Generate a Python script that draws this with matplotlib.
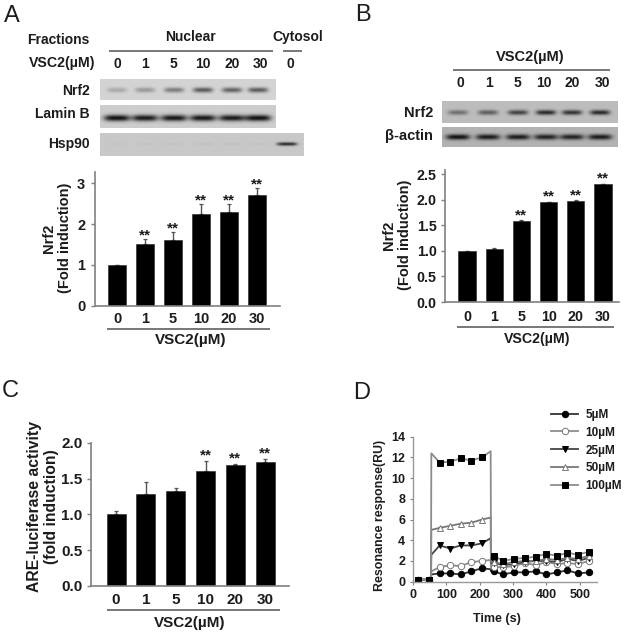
import numpy as np
import matplotlib
matplotlib.use("Agg")
import matplotlib.pyplot as plt

plt.rcParams['font.family'] = ['Liberation Sans', 'DejaVu Sans']
W, H = 629, 637
TXT = '#1c1c1c'
AX = '#808080'

doses = ['0', '1', '5', '10', '20', '30']

a_vals = [1.0, 1.51, 1.61, 2.26, 2.30, 2.71]
a_errs = [0.0, 0.13, 0.19, 0.23, 0.19, 0.18]
a_star = [False, True, True, True, True, True]

b_vals = [1.0, 1.04, 1.59, 1.95, 1.98, 2.30]
b_errs = [0.0, 0.01, 0.01, 0.01, 0.01, 0.01]
b_star = [False, False, True, True, True, True]

c_vals = [1.0, 1.29, 1.33, 1.61, 1.69, 1.73]
c_errs = [0.04, 0.16, 0.04, 0.14, 0.01, 0.045]
c_star = [False, False, False, True, True, True]

d_time = [15, 48, 54, 55, 80, 112, 143, 175, 207, 233, 234, 243, 270, 302, 335, 368, 400, 432, 463, 495, 527]
d_5 = [0.2, 0.2, 0.3, 0.7, 0.8, 0.8, 0.7, 1.0, 1.3, 1.2, 1.0, 1.0, 0.7, 0.9, 0.9, 1.0, 0.7, 0.9, 1.1, 0.8, 0.9]
d_10 = [0.2, 0.2, 0.3, 1.0, 1.4, 1.6, 1.5, 1.9, 2.0, 2.1, 1.4, 1.4, 1.4, 1.5, 1.8, 1.6, 1.9, 1.7, 1.8, 1.7, 2.0]
d_25 = [0.2, 0.2, 0.3, 2.6, 3.5, 3.2, 3.5, 3.5, 3.7, 4.2, 1.8, 1.8, 1.6, 1.7, 1.9, 2.0, 2.0, 1.9, 2.2, 2.0, 2.3]
d_50 = [0.2, 0.2, 0.3, 5.0, 5.2, 5.4, 5.6, 5.7, 6.0, 6.2, 1.9, 1.9, 1.7, 1.9, 2.0, 2.0, 2.2, 2.1, 2.3, 2.2, 2.5]
d_100 = [0.2, 0.2, 0.3, 12.4, 11.5, 11.6, 11.9, 11.7, 12.0, 12.6, 2.5, 2.5, 2.0, 2.2, 2.3, 2.4, 2.7, 2.5, 2.8, 2.6, 2.9]

blot_a_nrf2 = [0.22, 0.30, 0.45, 0.62, 0.58, 0.62]
blot_a_lamin = [1.0, 0.95, 0.97, 0.97, 0.95, 1.0]
blot_a_hsp = [0.02, 0.03, 0.03, 0.04, 0.04, 0.03, 0.85]
blot_b_nrf2 = [0.45, 0.55, 0.72, 0.85, 0.80, 0.85]
blot_b_actin = [1.0, 0.95, 0.95, 0.90, 0.90, 0.95]

fig = plt.figure(figsize=(W / 100, H / 100), dpi=100, facecolor='white')


def px_axes(l, t, r, b):
    return fig.add_axes([l / W, 1 - b / H, (r - l) / W, (b - t) / H])


def bar_panel(box, xlim, ylim, yticks, ylabels, vals, errs, stars, fs, star_off, xpad, ypad):
    ax = px_axes(*box)
    x = np.arange(len(vals))
    ax.bar(x, vals, width=0.64, color='black', edgecolor='#222222', linewidth=0.4, zorder=2)
    ax.errorbar(x, vals, yerr=[np.zeros(len(errs)), errs], fmt='none', ecolor='#555555',
                elinewidth=1.0, capsize=1.6, capthick=0.9, zorder=1)
    ax.set_xlim(*xlim)
    ax.set_ylim(*ylim)
    ax.set_xticks(x, doses)
    ax.set_yticks(yticks, ylabels)
    ax.tick_params(axis='x', length=0, pad=xpad, labelsize=fs, labelcolor=TXT)
    ax.tick_params(axis='y', length=3, width=1, color=AX, pad=ypad, labelsize=fs, labelcolor=TXT)
    for lab in ax.get_xticklabels() + ax.get_yticklabels():
        lab.set_fontweight('bold')
    for s in ('top', 'right'):
        ax.spines[s].set_visible(False)
    for s in ('left', 'bottom'):
        ax.spines[s].set_color(AX)
        ax.spines[s].set_linewidth(1.2)
    for xi, v, e, st in zip(x, vals, errs, stars):
        if st:
            ax.annotate('**', (xi, v + e), xytext=(0, star_off), textcoords='offset points',
                        ha='center', va='center', fontsize=11, fontweight='bold', color=TXT)
    ax.patch.set_alpha(0)
    return ax


bar_panel((95, 172, 280, 305.7), (-0.786, 5.82), (0, 3.28), [0, 1, 2, 3], ['0', '1', '2', '3'],
          a_vals, a_errs, a_star, 10.5, 2.5, 4.5, 4)
bar_panel((445, 170, 619, 302), (-0.81, 5.59), (0, 2.58), [0, 0.5, 1, 1.5, 2, 2.5],
          ['0.0', '0.5', '1.0', '1.5', '2.0', '2.5'], b_vals, b_errs, b_star, 10.3, 3.5, 6, 3)
bar_panel((91, 443, 289, 585.7), (-0.84, 5.8), (0, 2.0), [0, 0.5, 1, 1.5, 2],
          ['0.0', '0.5', '1.0', '1.5', '2.0'], c_vals, c_errs, c_star, 11, 4, 5, 3)

# Panel D
axd = px_axes(413, 436.7, 597, 581.7)
series = [('5µM', d_5, 'o', 'black', '#333333'),
          ('10µM', d_10, 'o', 'white', '#8c8c8c'),
          ('25µM', d_25, 'v', 'black', '#444444'),
          ('50µM', d_50, '^', 'white', '#777777'),
          ('100µM', d_100, 's', 'black', '#8c8c8c')]
jump_idx = {2, 3, 9, 10}
for name, y, mk, fc, lc in series:
    me = [i for i in range(len(d_time)) if i not in jump_idx]
    axd.plot(d_time, y, color=lc, lw=1.3, marker=mk, markevery=me, ms=4.6, mfc=fc,
             mec='black' if fc == 'black' else '#777777', mew=0.7, label=name)
axd.set_xlim(0, 552)
axd.set_ylim(0, 14)
axd.set_xticks(range(0, 600, 100))
axd.set_yticks(range(0, 16, 2))
axd.tick_params(axis='both', length=2, width=0.8, color=AX, pad=3.5, labelsize=9, labelcolor=TXT)
for lab in axd.get_xticklabels() + axd.get_yticklabels():
    lab.set_fontweight('bold')
for s in ('top', 'right'):
    axd.spines[s].set_visible(False)
for s in ('left', 'bottom'):
    axd.spines[s].set_color('#999999')
    axd.spines[s].set_linewidth(1.0)
axd.patch.set_alpha(0)
leg = axd.legend(loc='upper left', bbox_to_anchor=((551 - 413) / 184, 1 + 28 / 145), frameon=False,
                 prop={'size': 8.5, 'weight': 'bold'}, labelcolor=TXT, handlelength=2.3,
                 handletextpad=0.6, labelspacing=0.5, borderpad=0, borderaxespad=0)

# Overlay in pixel coordinates: blots, rules and annotations
ov = fig.add_axes([0, 0, 1, 1], zorder=5)
ov.patch.set_alpha(0)
ov.axis('off')


def blot(box, centers, strengths, bw, bh, yc, bg):
    l, t, r, b = box
    xx, yy = np.meshgrid(np.arange(l, r) + 0.5, np.arange(t, b) + 0.5)
    img = np.full(xx.shape, bg, dtype=float)
    for c, s in zip(centers, strengths):
        img -= (bg - 20) * s * np.exp(-((xx - c) / bw) ** 4 - ((yy - yc) / bh) ** 2)
    ov.imshow(img, cmap='gray', vmin=0, vmax=255, extent=(l, r, b, t), aspect='auto',
              interpolation='bilinear')


acols = [117, 145, 174, 203, 232, 258]
blot((100, 79, 276, 100), acols, blot_a_nrf2, 10, 2.6, 90, 212)
blot((100, 105, 276, 128), acols, blot_a_lamin, 13, 3.2, 118, 205)
blot((100, 133, 304, 156), acols + [287], blot_a_hsp, 10, 1.8, 144, 200)
bcols = [458, 488, 518, 546, 572, 600]
blot((442, 101, 618, 123), bcols, blot_b_nrf2, 10, 2.5, 112.5, 188)
blot((442, 127, 618, 147), bcols, blot_b_actin, 12, 2.8, 137, 178)

ov.set_xlim(0, W)
ov.set_ylim(H, 0)


def T(x, y, s, ha='center', size=10, weight='bold', **kw):
    ov.text(x, y, s, ha=ha, va='center', fontsize=size, fontweight=weight, color=TXT, **kw)


def rule(x0, x1, y):
    ov.plot([x0, x1], [y, y], color='#606060', lw=1.2, solid_capstyle='butt')


for s, x, y in [('A', 12, 16), ('B', 363, 15), ('C', 10, 391), ('D', 362, 393)]:
    T(x, y, s, size=17, weight='normal')

T(90, 40, 'Fractions', ha='right')
T(191, 37, 'Nuclear')
T(298, 37, 'Cytosol')
rule(109, 273, 50.5)
rule(283, 302, 50.5)
T(95, 63, 'VSC2(µM)', ha='right', size=10.2)
for s, x in zip(doses + ['0'], [117, 145, 173, 203, 232, 260, 290]):
    T(x, 64, s)
T(90, 91, 'Nrf2', ha='right')
T(90, 114, 'Lamin B', ha='right')
T(90, 144, 'Hsp90', ha='right')

T(530, 57, 'VSC2(µM)', size=10.5)
rule(453, 610, 69.5)
for s, x in zip(doses, [460, 489, 517, 544, 572, 602]):
    T(x, 83, s)
T(433, 113, 'Nrf2', ha='right', size=10.5)
T(433, 136, 'β-actin', ha='right', size=10.5)

T(57, 238, 'Nrf2\n(Fold induction)', size=10.5, rotation=90, multialignment='center', linespacing=1.2)
rule(107, 270, 329)
T(191, 340, 'VSC2(µM)', size=11)

T(397, 235, 'Nrf2\n(Fold induction)', size=10.5, rotation=90, multialignment='center', linespacing=1.2)
rule(457, 614, 327)
T(537, 339, 'VSC2(µM)', size=10.2)

T(43, 507, 'ARE-luciferase activity\n(fold induction)', size=11.3, rotation=90, multialignment='center',
  linespacing=1.15)
rule(107, 280, 610)
T(190, 623, 'VSC2(µM)', size=11)

T(380, 515, 'Resonance response(RU)', size=8.9, rotation=90)
T(497, 619, 'Time (s)', size=9)

fig.savefig('out.png', dpi=100, facecolor='white')
